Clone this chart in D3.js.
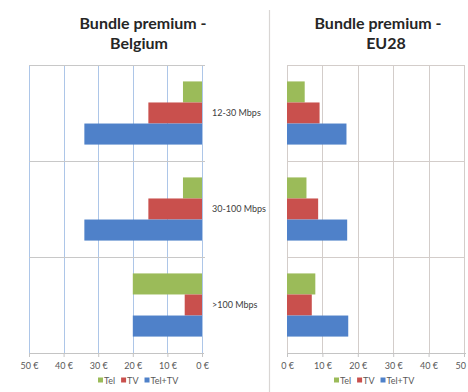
<!DOCTYPE html>
<html>
<head>
<meta charset="utf-8">
<script src="https://cdn.jsdelivr.net/npm/d3@7/dist/d3.min.js"></script>
<style>
  html, body { margin: 0; padding: 0; background: #fff; }
  svg { display: block; font-family: Lato, "Open Sans", sans-serif; }
</style>
</head>
<body>
<svg id="chart" width="468" height="392"></svg>
<script>
// Bundle premium by broadband speed, Belgium vs EU28 (EUR)
const categories = ["12-30 Mbps", "30-100 Mbps", ">100 Mbps"];
const seriesNames = ["Tel", "TV", "Tel+TV"];
const seriesColors = ["#9bbb59", "#c9504d", "#4f81c9"];
const tickValues = [0, 10, 20, 30, 40, 50];

const belgiumTel   = [5.5, 5.5, 20];
const belgiumTV    = [15.5, 15.5, 5];
const belgiumTelTV = [34, 34, 20];

const eu28Tel   = [5, 5.5, 8];
const eu28TV    = [9.2, 8.8, 7];
const eu28TelTV = [16.8, 17, 17.3];

const titlesBelgium = ["Bundle premium -", "Belgium"];
const titlesEU28 = ["Bundle premium -", "EU28"];

const svg = d3.select("#chart");
const textColor = "#595959";

// divider between the two panels
svg.append("line")
  .attr("x1", 269.5).attr("x2", 269.5)
  .attr("y1", 10).attr("y2", 392)
  .attr("stroke", "#d9d6d4").attr("stroke-width", 1.2);

const y = d3.scaleBand().domain(categories).range([65, 353]);
const ySub = d3.scaleBand().domain(seriesNames)
  .range([0, y.bandwidth()]).paddingInner(0).paddingOuter(0.78);

function panel(opts) {
  const g = svg.append("g");
  const x = d3.scaleLinear().domain([0, 50]).range(opts.range);
  const [x0, x1] = d3.extent(opts.range);
  const [yTop, yBot] = y.range();

  // vertical gridlines
  g.append("g").selectAll("line").data(tickValues).join("line")
    .attr("x1", d => Math.round(x(d)) + 0.5).attr("x2", d => Math.round(x(d)) + 0.5)
    .attr("y1", yTop).attr("y2", yBot)
    .attr("stroke", opts.gridColor).attr("stroke-width", 1);

  // horizontal category separators
  const seps = categories.map(c => y(c));
  g.append("g").selectAll("line").data(seps).join("line")
    .attr("x1", x0).attr("x2", x1 + (opts.sepExtra || 0))
    .attr("y1", d => Math.round(d) + 0.5).attr("y2", d => Math.round(d) + 0.5)
    .attr("stroke", opts.sepColor).attr("stroke-width", 1);

  // bars
  const rows = [];
  categories.forEach((c, i) => {
    opts.values.forEach((vals, s) => {
      rows.push({ cat: c, series: seriesNames[s], value: vals[i], color: seriesColors[s] });
    });
  });
  g.append("g").selectAll("rect").data(rows).join("rect")
    .attr("x", d => Math.min(x(0), x(d.value)))
    .attr("width", d => Math.abs(x(d.value) - x(0)))
    .attr("y", d => y(d.cat) + ySub(d.series))
    .attr("height", ySub.bandwidth())
    .attr("fill", d => d.color);

  // bottom axis
  const axis = d3.axisBottom(x).tickValues(tickValues)
    .tickFormat(d => d + " €").tickSize(4).tickSizeOuter(0);
  const ax = g.append("g").attr("transform", `translate(0,${yBot})`).call(axis);
  ax.select(".domain").attr("stroke", "#c4c4c4").attr("d", `M${x0},0.5H${x1 + 2}`);
  ax.selectAll(".tick line").attr("stroke", "#c4c4c4");
  ax.selectAll(".tick text")
    .attr("fill", textColor).attr("font-size", 9).attr("dy", "1.05em")
    .attr("font-family", "Lato, sans-serif");

  // category labels
  if (opts.showLabels) {
    g.append("g").selectAll("text").data(categories).join("text")
      .attr("x", 212)
      .attr("y", d => y(d) + y.bandwidth() / 2)
      .attr("dy", "0.35em")
      .attr("fill", "#404040").attr("font-size", 9)
      .text(d => d);
  }

  // title
  g.append("g").selectAll("text").data(opts.titles).join("text")
    .attr("x", (d, i) => opts.titleX[i])
    .attr("y", (d, i) => 29 + i * 20)
    .attr("text-anchor", "middle")
    .attr("font-weight", "bold").attr("font-size", 16)
    .attr("fill", "#262626")
    .text(d => d);

  // legend
  const leg = g.append("g").attr("transform", `translate(${opts.legendX},381)`);
  let lx = 0;
  seriesNames.forEach((name, i) => {
    leg.append("rect").attr("x", lx).attr("y", -3.5).attr("width", 5).attr("height", 5)
      .attr("fill", seriesColors[i]);
    const t = leg.append("text").attr("x", lx + 6).attr("y", 0).attr("dy", "0.35em")
      .attr("font-size", 9).attr("fill", textColor).text(name);
    lx += 6 + t.node().getComputedTextLength() + 6;
  });
}

panel({
  range: [202, 29],
  values: [belgiumTel, belgiumTV, belgiumTelTV],
  gridColor: "#adc6e8",
  sepColor: "#c8c8c8",
  sepExtra: 3,
  showLabels: true,
  titles: titlesBelgium,
  titleX: [143, 139],
  legendX: 98
});

panel({
  range: [287, 464],
  values: [eu28Tel, eu28TV, eu28TelTV],
  gridColor: "#d3cdca",
  sepColor: "#d3cdca",
  sepExtra: 0,
  showLabels: false,
  titles: titlesEU28,
  titleX: [378, 386],
  legendX: 334
});
</script>
</body>
</html>
